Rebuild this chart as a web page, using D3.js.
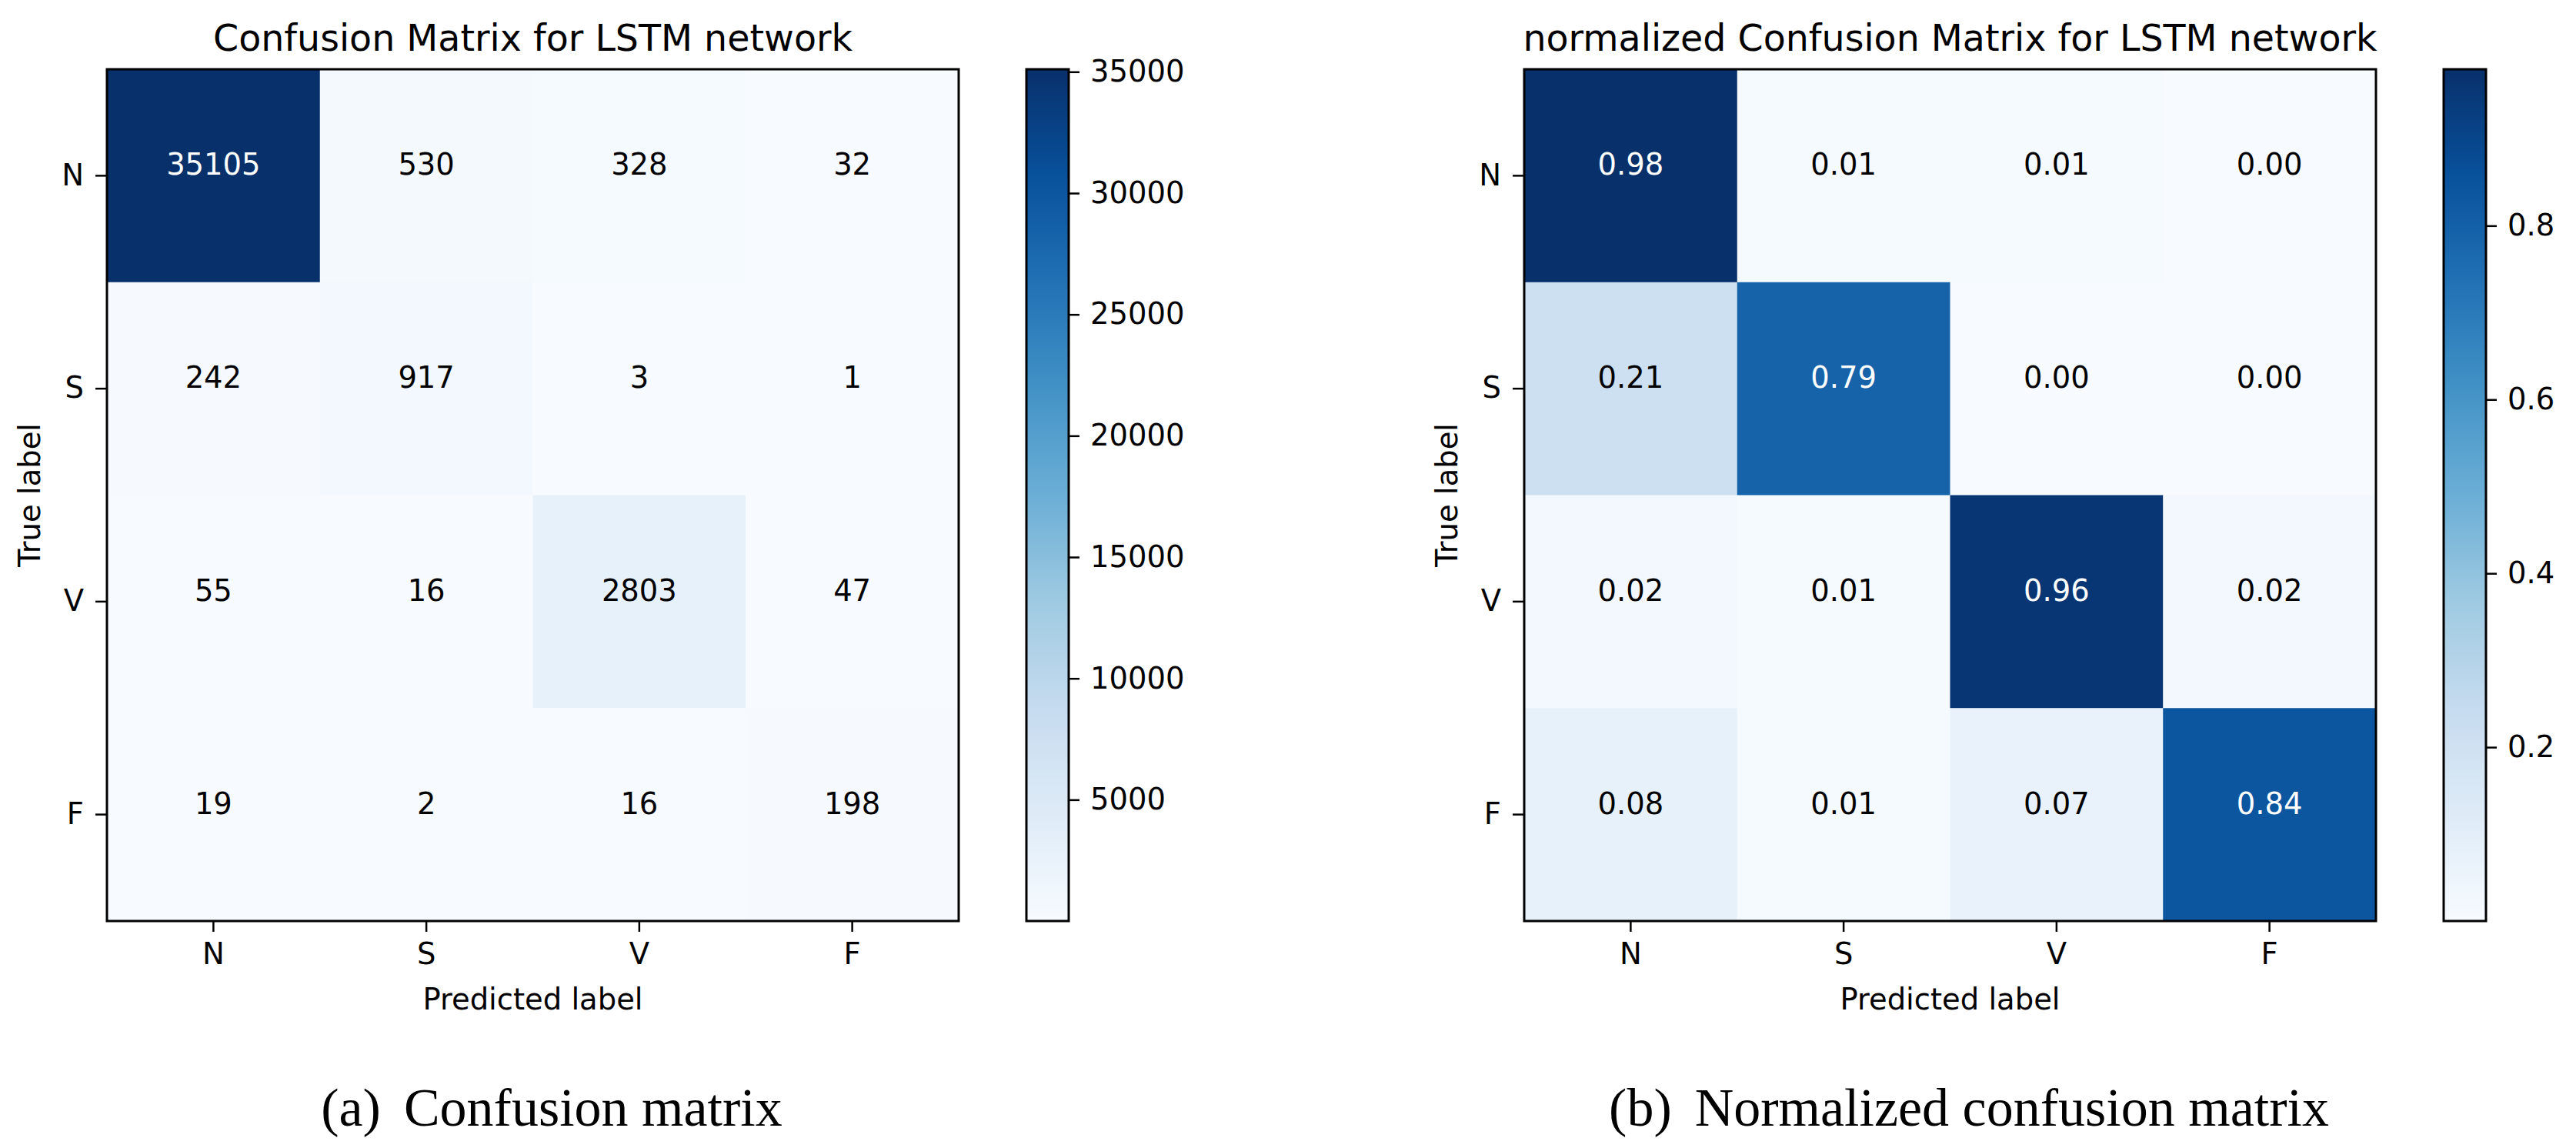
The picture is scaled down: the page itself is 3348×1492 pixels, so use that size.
<!DOCTYPE html>
<html><head><meta charset="utf-8">
<script src="https://cdn.jsdelivr.net/npm/d3@7/dist/d3.min.js"></script>
<style>html,body{margin:0;padding:0;background:#fff;overflow:hidden}</style>
</head><body>
<svg id="chart" width="3348" height="1492"></svg>
<script>
// ---- data ----
const classes = ["N", "S", "V", "F"];
const counts = [
  [35105, 530, 328, 32],
  [242, 917, 3, 1],
  [55, 16, 2803, 47],
  [19, 2, 16, 198]
];
const normalized = [
  [0.98, 0.01, 0.01, 0.00],
  [0.21, 0.79, 0.00, 0.00],
  [0.02, 0.01, 0.96, 0.02],
  [0.08, 0.01, 0.07, 0.84]
];
const countTicks = [5000, 10000, 15000, 20000, 25000, 30000, 35000];
const normTicks = [0.2, 0.4, 0.6, 0.8];
const titles = ["Confusion Matrix for LSTM network", "normalized Confusion Matrix for LSTM network"];
const captionTags = ["(a)", "(b)"];
const captionTexts = ["Confusion matrix", "Normalized confusion matrix"];
const xAxisLabel = "Predicted label";
const yAxisLabel = "True label";
// matplotlib "Blues" colormap anchor colours
const bluesStops = ["#f7fbff","#deebf7","#c6dbef","#9ecae1","#6baed6","#4292c6","#2171b5","#08519c","#08306b"];

// ---- layout ----
const svg = d3.select("#chart");
svg.append("rect").attr("width", 3348).attr("height", 1492).attr("fill", "#fff");
const FONT = "DejaVu Sans, sans-serif";
const TICK_FS = 38.5, TITLE_FS = 47.5, CAP_FS = 70;
const AX_TOP = 90, AX_SIZE = 1107;
const blues = d3.piecewise(d3.interpolateRgb, bluesStops);

function panel(idx, x0, matrix, ticks, cellFmt, tickFmt) {
  const g = svg.append("g");
  const flat = matrix.flat();
  const vmin = d3.min(flat), vmax = d3.max(flat);
  const color = d3.scaleSequential(blues).domain([vmin, vmax]);
  const x = d3.scaleBand().domain(classes).range([x0, x0 + AX_SIZE]);
  const y = d3.scaleBand().domain(classes).range([AX_TOP, AX_TOP + AX_SIZE]);

  const cells = [];
  matrix.forEach((row, i) => row.forEach((v, j) => cells.push({r: classes[i], c: classes[j], v})));

  g.selectAll("rect.cell").data(cells).join("rect")
    .attr("class", "cell")
    .attr("x", d => x(d.c)).attr("y", d => y(d.r))
    .attr("width", x.bandwidth() + 0.5).attr("height", y.bandwidth() + 0.5)
    .attr("fill", d => color(d.v));

  const thresh = vmax / 2;
  g.selectAll("text.val").data(cells).join("text")
    .attr("class", "val")
    .attr("x", d => x(d.c) + x.bandwidth() / 2)
    .attr("y", d => y(d.r) + y.bandwidth() / 2 - 1)
    .attr("text-anchor", "middle")
    .attr("font-family", FONT).attr("font-size", TICK_FS)
    .attr("fill", d => d.v > thresh ? "#fff" : "#000")
    .text(d => cellFmt(d.v));

  // frame
  g.append("rect").attr("x", x0).attr("y", AX_TOP).attr("width", AX_SIZE).attr("height", AX_SIZE)
    .attr("fill", "none").attr("stroke", "#000").attr("stroke-width", 3);

  // axes
  const xa = g.append("g").attr("transform", `translate(0,${AX_TOP + AX_SIZE})`)
    .call(d3.axisBottom(x).tickSize(14).tickPadding(15));
  const ya = g.append("g").attr("transform", `translate(${x0},0)`)
    .call(d3.axisLeft(y).tickSize(15).tickPadding(15));
  [xa, ya].forEach(a => {
    a.select(".domain").remove();
    a.selectAll("line").attr("stroke", "#000").attr("stroke-width", 2.5);
    a.selectAll("text").attr("font-family", FONT).attr("font-size", TICK_FS).attr("fill", "#000");
  });

  // title & labels
  const cx = x0 + AX_SIZE / 2;
  g.append("text").attr("x", cx).attr("y", 66).attr("text-anchor", "middle")
    .attr("font-family", FONT).attr("font-size", TITLE_FS).attr("fill", "#000").text(titles[idx]);
  g.append("text").attr("x", cx).attr("y", 1312).attr("text-anchor", "middle")
    .attr("font-family", FONT).attr("font-size", TICK_FS).attr("fill", "#000").text(xAxisLabel);
  g.append("text").attr("transform", `translate(${x0 - 87},${AX_TOP + AX_SIZE / 2}) rotate(-90)`)
    .attr("text-anchor", "middle")
    .attr("font-family", FONT).attr("font-size", TICK_FS).attr("fill", "#000").text(yAxisLabel);

  // colorbar
  const cbX = x0 + 1195, cbW = 55;
  const gradId = "grad" + idx;
  const grad = svg.append("defs").append("linearGradient").attr("id", gradId)
    .attr("x1", 0).attr("y1", 1).attr("x2", 0).attr("y2", 0);
  d3.range(0, 1.0001, 0.02).forEach(t => {
    grad.append("stop").attr("offset", t).attr("stop-color", blues(t));
  });
  g.append("rect").attr("x", cbX).attr("y", AX_TOP).attr("width", cbW).attr("height", AX_SIZE)
    .attr("fill", `url(#${gradId})`).attr("stroke", "#000").attr("stroke-width", 3);
  const cy = d3.scaleLinear().domain([vmin, vmax]).range([AX_TOP + AX_SIZE, AX_TOP]);
  const ca = g.append("g").attr("transform", `translate(${cbX + cbW},0)`)
    .call(d3.axisRight(cy).tickValues(ticks).tickFormat(tickFmt).tickSize(14).tickPadding(14));
  ca.select(".domain").remove();
  ca.selectAll("line").attr("stroke", "#000").attr("stroke-width", 2.5);
  ca.selectAll("text").attr("font-family", FONT).attr("font-size", TICK_FS).attr("fill", "#000");

  // caption
  const capX = x0 + 578;
  const cap = g.append("text").attr("x", capX).attr("y", 1463).attr("text-anchor", "middle")
    .attr("font-family", "Liberation Serif, serif").attr("font-size", CAP_FS).attr("fill", "#000");
  cap.append("tspan").text(captionTags[idx]);
  cap.append("tspan").attr("dx", 30).text(captionTexts[idx]);
}

panel(0, 139, counts, countTicks, d3.format("d"), d3.format("d"));
panel(1, 1981, normalized, normTicks, d3.format(".2f"), d3.format(".1f"));
</script>
</body></html>
